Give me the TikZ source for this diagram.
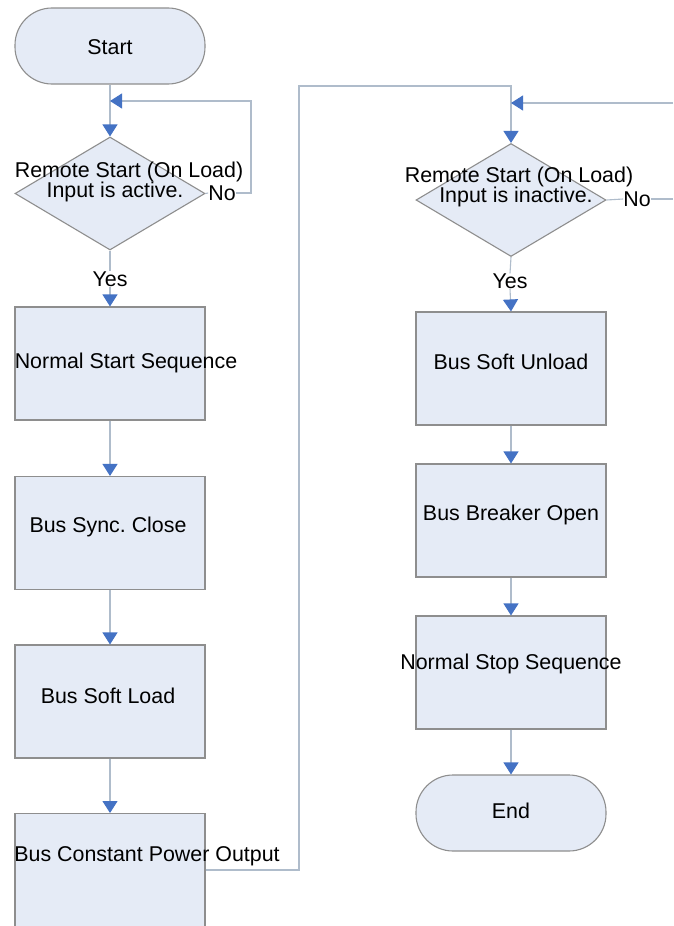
\documentclass[tikz,border=0pt]{standalone}
\usepackage{fontspec}
\setmainfont{Liberation Sans}
\usetikzlibrary{shapes.geometric,arrows.meta}
\definecolor{boxfill}{HTML}{E5EBF6}
\definecolor{boxline}{HTML}{8E8E8E}
\definecolor{conline}{HTML}{AFBCCB}
\definecolor{tipblue}{HTML}{4472C4}
\frenchspacing
\tikzset{
  box/.style={draw=boxline,fill=boxfill,line width=1.1pt,minimum width=190pt,minimum height=113pt,inner sep=0pt},
  term/.style={draw=boxline,fill=boxfill,line width=1.1pt,minimum width=190pt,minimum height=76pt,rounded corners=37pt,inner sep=0pt},
  dec/.style={draw=boxline,fill=boxfill,line width=1.1pt,diamond,minimum width=190pt,minimum height=113pt,aspect=1.68,inner sep=0pt},
  txt/.style={font=\fontsize{21.4}{20}\selectfont,align=center,inner sep=0pt},
  con/.style={draw=conline,line width=1.1pt},
  arr/.style={con,-{Triangle[width=15pt,length=12pt,color=tipblue,fill=tipblue]}},
}
\begin{document}
\begin{tikzpicture}[x=1pt,y=-1pt]
\useasboundingbox[fill=white] (0,0) rectangle (673,926);
% left column
\node[term] (start) at (110,46) {};
\node[txt] (startT) at (110,47) {Start};
\node[dec] (d1) at (110,193.5) {};
\node[txt] (d1T1) at (129,172) {Remote Start (On Load)};
\node[txt] (d1T2) at (115,192) {Input is active.};
\node[txt] (no1) at (222,193) {No};
\node[txt] (yes1) at (110,279) {Yes};
\node[box] (b1) at (110,363.5) {};
\node[txt] (b1T) at (126,363) {Normal Start Sequence};
\node[box] (b2) at (110,533) {};
\node[txt] (b2T) at (108,527) {Bus Sync. Close};
\node[box] (b3) at (110,701.5) {};
\node[txt] (b3T) at (108,696) {Bus Soft Load};
\node[box,minimum height=126pt,anchor=north] (b4) at (110,813) {};
\node[txt] (b4T) at (147,856) {Bus Constant Power Output};
% right column
\node[dec] (d2) at (511,200) {};
\node[txt] (d2T1) at (519,177) {Remote Start (On Load)};
\node[txt] (d2T2) at (516,197) {Input is inactive.};
\node[txt] (no2) at (637,199) {No};
\node[txt] (yes2) at (510,281) {Yes};
\node[box] (b5) at (511,368.5) {};
\node[txt] (b5T) at (511,362) {Bus Soft Unload};
\node[box] (b6) at (511,520.5) {};
\node[txt] (b6T) at (511,515) {Bus Breaker Open};
\node[box] (b7) at (511,672.5) {};
\node[txt] (b7T) at (511,664) {Normal Stop Sequence};
\node[term] (end) at (511,813) {};
\node[txt] (endT) at (511,811) {End};
\coordinate (l1a) at (251,193);
\coordinate (l1b) at (251,101);
\coordinate (l1c) at (110,101);
\coordinate (m1) at (299,870);
\coordinate (m2) at (299,86);
\coordinate (m3) at (511,86);
\coordinate (r1) at (673,199);
\coordinate (r2) at (673,103);
\coordinate (r3) at (511,103);
% connectors
\draw[arr] (start.south) -- (d1.north);
\draw[con] (d1.east) -- (no1.west);
\draw[arr] (no1.east) -- (l1a) -- (l1b) -- (l1c);
\draw[con] (d1.south) -- (yes1.north);
\draw[arr] (yes1.south) -- (b1.north);
\draw[arr] (b1.south) -- (b2.north);
\draw[arr] (b2.south) -- (b3.north);
\draw[arr] (b3.south) -- (b4.north);
\draw[arr] (b4.east |- m1) -- (m1) -- (m2) -- (m3) -- (d2.north);
\draw[con] (d2.east) -- (no2.west);
\draw[con] (no2.east) -- (r1);
\draw[arr] (r2) -- (r3);
\draw[con] (d2.south) -- (yes2.north);
\draw[arr] (yes2.south) -- (b5.north);
\draw[arr] (b5.south) -- (b6.north);
\draw[arr] (b6.south) -- (b7.north);
\draw[arr] (b7.south) -- (end.north);
\end{tikzpicture}
\end{document}
